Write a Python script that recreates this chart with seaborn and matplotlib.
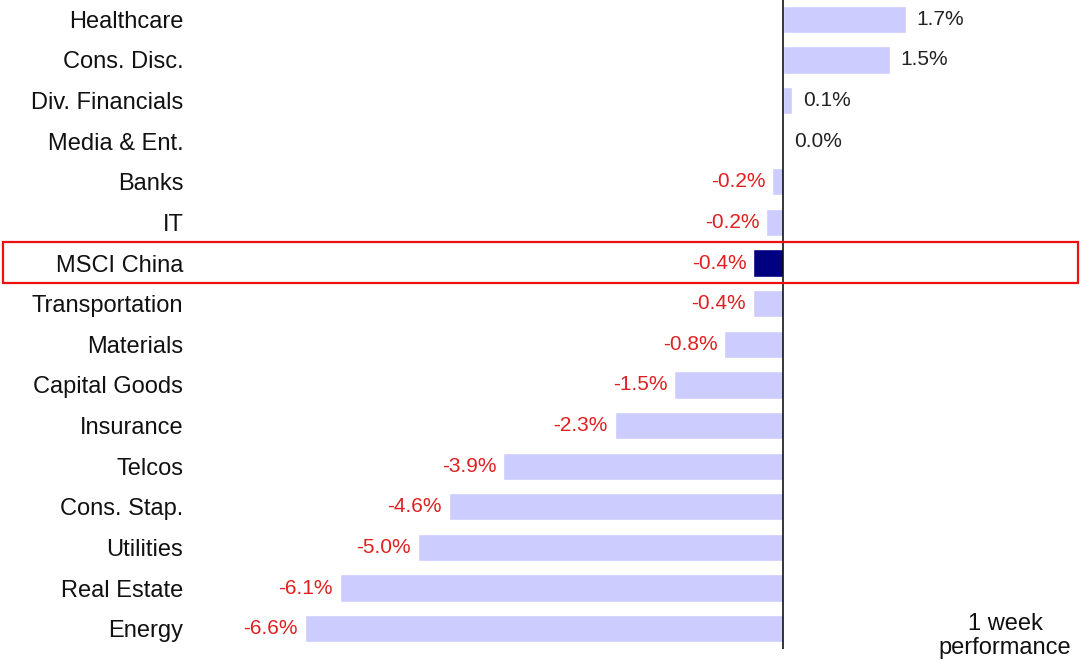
import seaborn as sns
import matplotlib.pyplot as plt
import matplotlib.patches as patches
import pandas as pd

sectors = ["Healthcare", "Cons. Disc.", "Div. Financials", "Media & Ent.", "Banks", "IT",
           "MSCI China", "Transportation", "Materials", "Capital Goods", "Insurance",
           "Telcos", "Cons. Stap.", "Utilities", "Real Estate", "Energy"]
perf = [1.69, 1.47, 0.13, 0.0, -0.15, -0.23, -0.41, -0.42, -0.81, -1.50, -2.32,
        -3.86, -4.61, -5.04, -6.11, -6.60]
labels = ["1.7%", "1.5%", "0.1%", "0.0%", "-0.2%", "-0.2%", "-0.4%", "-0.4%", "-0.8%",
          "-1.5%", "-2.3%", "-3.9%", "-4.6%", "-5.0%", "-6.1%", "-6.6%"]
highlight = "MSCI China"

sns.set_theme(style="white")
plt.rcParams['font.family'] = ['Liberation Sans', 'DejaVu Sans']

df = pd.DataFrame({"sector": sectors, "perf": perf})
colors = {s: ("#000080" if s == highlight else "#CCCCFF") for s in sectors}

fig = plt.figure(figsize=(10.8, 6.62), dpi=100)
ax = fig.add_axes([200 / 1080, 13 / 662, 880 / 1080, 650 / 662])

sns.barplot(data=df, x="perf", y="sector", hue="sector", palette=colors,
            orient="h", width=0.67, legend=False, saturation=1, ax=ax)

ax.set_xlim(-(783 - 200) / 72.5, (1080 - 783) / 72.5)
ax.set_ylim(len(sectors) - 0.5, -0.5)
ax.axvline(0, color="black", lw=1.1)

# value labels: black for gains, red for losses
for cont in ax.containers:
    for bar in cont:
        i = int(round(bar.get_y() + bar.get_height() / 2))
        v = perf[i]
        x0 = bar.get_x()
        x1 = x0 + bar.get_width()
        if v >= 0:
            ax.annotate(labels[i], (max(x0, x1), i), xytext=(8, 0),
                        textcoords="offset points", ha="left", va="center",
                        fontsize=15, color="#222222")
        else:
            ax.annotate(labels[i], (min(x0, x1), i), xytext=(-5, 0),
                        textcoords="offset points", ha="right", va="center",
                        fontsize=15, color="#E02020")

ax.set_xlabel("")
ax.set_ylabel("")
ax.set_xticks([])
ax.tick_params(axis="y", length=0, pad=12, labelsize=17, labelcolor="#111111")
for sp in ax.spines.values():
    sp.set_visible(False)

# red box around the benchmark row
fig.patches.append(patches.Rectangle((3 / 1080, 379 / 662), 1075 / 1080, 41 / 662,
                                     transform=fig.transFigure, fill=False,
                                     edgecolor="#EE1111", lw=1.6))

fig.text(1005 / 1080, 26 / 662, "1 week\nperformance", ha="center", va="center",
         fontsize=17, color="#111111", linespacing=1.1)

plt.savefig("out.png", dpi=100)
